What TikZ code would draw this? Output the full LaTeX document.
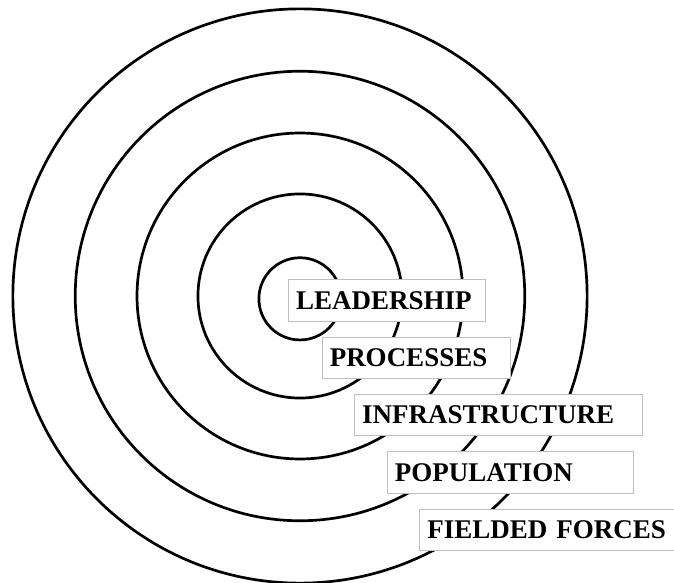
\documentclass[tikz,border=0pt]{standalone}
\usepackage{fontspec}
\setmainfont{Liberation Serif}
\begin{document}
\begin{tikzpicture}
        [
            ring/.style={line width=2.7pt, draw=black},
            layer/.style={rectangle, draw=black!25, line width=0.8pt, fill=white, anchor=west,
                minimum height=1.46cm, inner xsep=0.27cm, align=left,
                font=\fontsize{27bp}{32bp}\selectfont\bfseries}
        ]
        \useasboundingbox (-10.584,-10.125) rectangle (13.195,10.443);
        % rings
        \draw[ring] (0,-0.1) circle (1.45);
        \draw[ring] (0,0) circle (3.60);
        \draw[ring] (0,0) circle (5.75);
        \draw[ring] (0,0) circle (7.93);
        \draw[ring] (0,0) circle (10.13);
        % labels
        \node[layer, text width=6.41cm] (lead) at (-0.42,-0.16) {LEADERSHIP};
        \node[layer, text width=6.09cm] (proc) at (0.766,-2.18) {PROCESSES};
        \node[layer, text width=9.61cm] (infra) at (1.905,-4.19) {INFRASTRUCTURE};
        \node[layer, text width=8.14cm] (pop) at (3.06,-6.23) {POPULATION};
        \node[layer, text width=8.8cm] (field) at (4.21,-8.26) {FIELDED FORCES};
    \end{tikzpicture}
\end{document}
